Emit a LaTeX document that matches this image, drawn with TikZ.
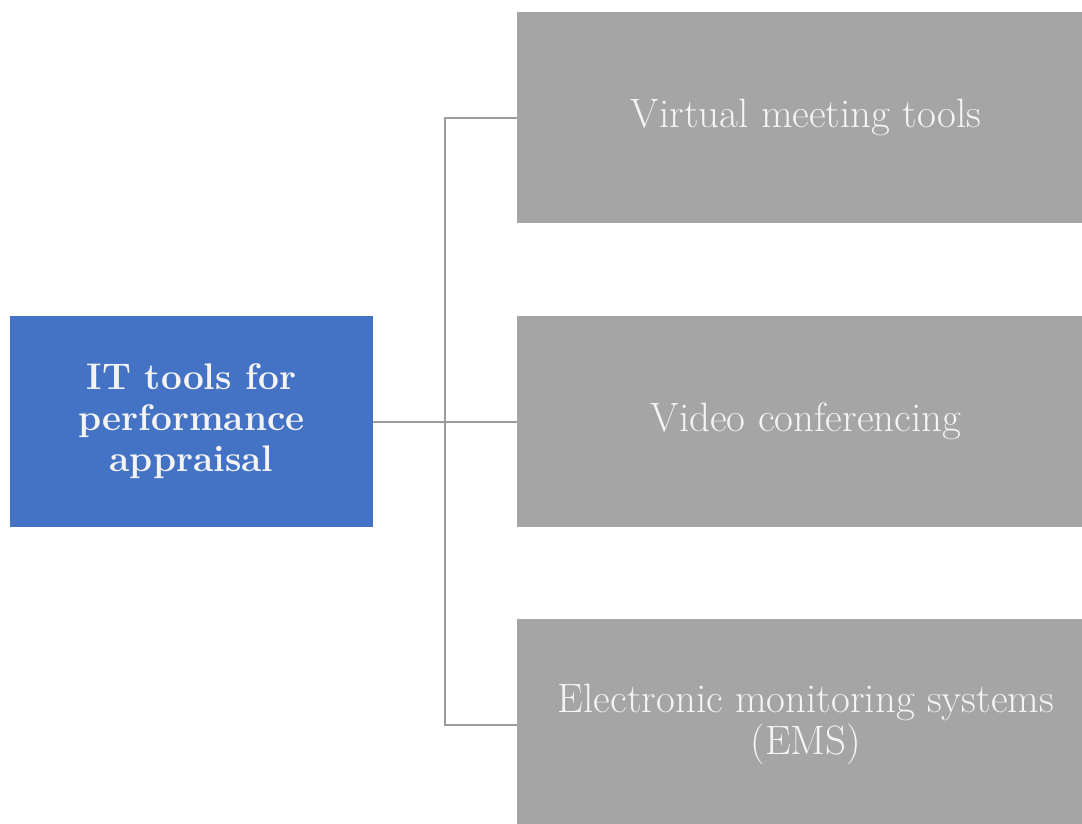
\documentclass[tikz,border=0pt]{standalone}
\usepackage{fontspec}
\definecolor{itblue}{HTML}{4472C4}
\definecolor{itgray}{HTML}{A5A5A5}
\definecolor{linegray}{HTML}{9C9C9C}
\definecolor{softwhite}{HTML}{F4F4F4}
\begin{document}
\begin{tikzpicture}[x=1pt,y=-1pt,
  rootbox/.style={fill=itblue, text=softwhite, minimum width=363pt, minimum height=211pt,
    inner sep=0pt, align=center, font=\fontsize{37}{41}\selectfont\bfseries},
  leafbox/.style={fill=itgray, text=softwhite, minimum width=578pt, minimum height=211pt,
    inner sep=0pt, align=center, font=\fontsize{41}{42}\selectfont},
  conn/.style={draw=linegray, line width=2pt}]
\useasboundingbox (0,0) rectangle (1082,823);
\fill[white] (0,0) rectangle (1082,823);
\node[rootbox] (root) at (191.5,421.5) {IT tools for\\performance\\appraisal};
\node[leafbox] (a) at (806,117.5) {Virtual meeting tools};
\node[leafbox] (b) at (806,421.5) {Video conferencing};
\node[leafbox] (c) at (806,724.5) {Electronic monitoring systems\\(EMS)};
\coordinate (j) at (445,421.5);
\draw[conn] (root.east) -- (b.west);
\draw[conn] (a.west) -| (j) |- (c.west);
\end{tikzpicture}
\end{document}
